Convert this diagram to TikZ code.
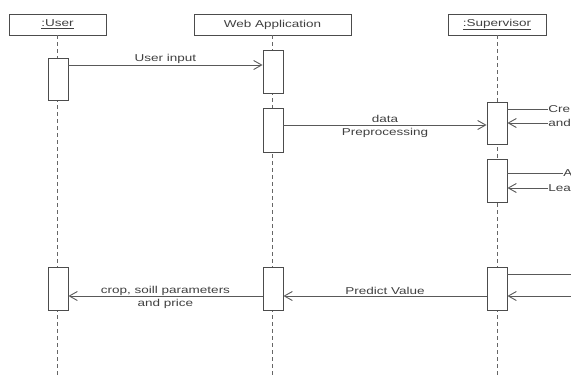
\documentclass[tikz,border=0pt]{standalone}
\usepackage{fontspec}
\setmainfont[FakeStretch=1.35]{Liberation Sans}
\usetikzlibrary{arrows.meta,positioning}
\tikzset{
  line cap=butt,
  every picture/.style={line width=0.9pt},
  head/.style={draw=black!70, minimum height=21pt, inner sep=0pt, font=\fontsize{10}{13}\selectfont, text=black!75},
  bar/.style={draw=black!70, fill=white, minimum width=20pt, inner sep=0pt},
  lifeline/.style={draw=black!60, dash pattern=on 4pt off 3pt},
  msg/.style={draw=black!65, -{Straight Barb[length=8pt,width=9pt]}},
  ret/.style={draw=black!65},
  lbl/.style={font=\fontsize{10}{13}\selectfont, text=black!75, align=center, inner sep=1pt}
}

\begin{document}
\begin{tikzpicture}[x=1pt,y=-1pt]
  \useasboundingbox (0,0) rectangle (571,376);
  \clip (0,0) rectangle (571,376);

  % lifeline heads
  \node[head, minimum width=97pt] (user) at (57.5,24.5) {\underline{:User}};
  \node[head, minimum width=157pt] (web) at (272.5,24.5) {Web Application};
  \node[head, minimum width=98pt] (sup) at (497,24.5) {\underline{:Supervisor}};

  % lifelines
  \coordinate (userend) at (57.5,376);
  \coordinate (webend) at (272.5,376);
  \coordinate (supend) at (497,376);
  \draw[lifeline] (user.south) -- (userend);
  \draw[lifeline] (web.south) -- (webend);
  \draw[lifeline] (sup.south) -- (supend);

  % activation bars
  \node[bar, minimum height=42pt] (ua1) at (58,79) {};
  \node[bar, minimum height=43pt] (ua2) at (58,288.5) {};
  \node[bar, minimum height=43pt] (wa1) at (273,71.5) {};
  \node[bar, minimum height=44pt] (wa2) at (273,130) {};
  \node[bar, minimum height=43pt] (wa3) at (273,288.5) {};
  \node[bar, minimum height=42pt] (sa1) at (497,123) {};
  \node[bar, minimum height=43pt] (sa2) at (497,180.5) {};
  \node[bar, minimum height=43pt] (sa3) at (497,288.5) {};

  % messages
  \draw[msg] (ua1.east |- 0,65) -- node[lbl, above] {User input} (wa1.west |- 0,65);
  \draw[msg] (wa2.east |- 0,125) -- node[lbl, yshift=-1pt] {data\\[0pt]Preprocessing} (sa1.west |- 0,125);
  \draw[msg] (sa3.west |- 0,296) -- node[lbl, above] {Predict Value} (wa3.east |- 0,296);
  \draw[msg] (wa3.west |- 0,296) -- node[lbl, yshift=-1pt] {crop, soill parameters\\[0pt]and price} (ua2.east |- 0,296);

  % messages leaving the picture on the right
  \coordinate (cre) at (548,109);
  \coordinate (and) at (548,123);
  \coordinate (app) at (563,173);
  \coordinate (lea) at (548,188);
  \coordinate (out3) at (571,274);
  \coordinate (in3) at (571,296);
  \draw[ret] (sa1.east |- cre) -- (cre) node[lbl, anchor=west, inner sep=0pt] {Cre};
  \draw[msg] (and) node[lbl, anchor=west, inner sep=0pt] {and} -- (sa1.east |- and);
  \draw[ret] (sa2.east |- app) -- (app) node[lbl, anchor=west, inner sep=0pt] {A};
  \draw[msg] (lea) node[lbl, anchor=west, inner sep=0pt] {Lea} -- (sa2.east |- lea);
  \draw[ret] (sa3.east |- out3) -- (out3);
  \draw[msg] (in3) -- (sa3.east |- in3);
\end{tikzpicture}
\end{document}
